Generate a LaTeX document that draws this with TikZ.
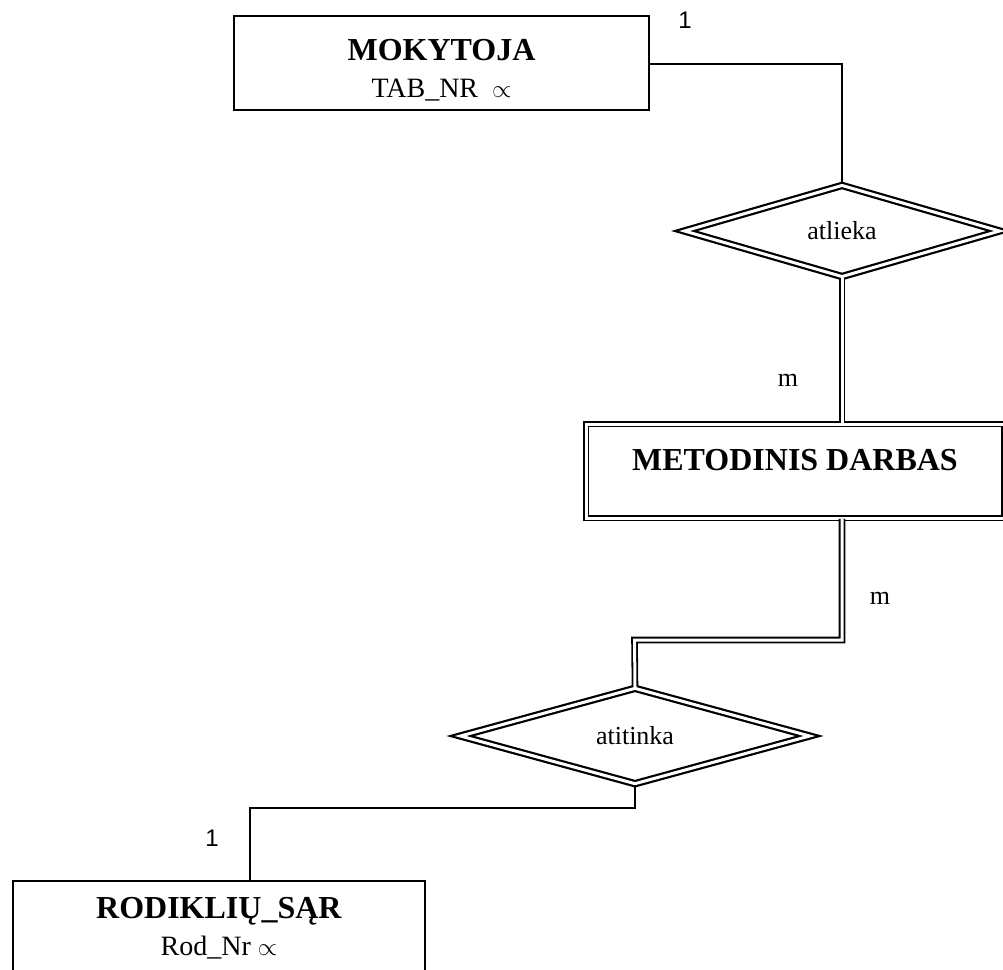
\documentclass[tikz,border=0pt]{standalone}
\usepackage{fontspec}
\setmainfont{Liberation Serif}
\newfontfamily\labelsans{Liberation Sans}
\usetikzlibrary{shapes.geometric}
\begin{document}
\begin{tikzpicture}[x=1pt,y=-1pt,
  every node/.style={inner sep=0pt},
  entity/.style={draw, line width=2pt, rectangle},
  weakentity/.style={draw, line width=1.8pt, double, double distance=3pt, rectangle},
  entitytext/.style={align=center, font=\fontsize{28}{37}\selectfont},
  relation/.style={draw, line width=2.2pt, double, double distance=3pt,
    diamond, font=\fontsize{26}{30}\selectfont},
  single/.style={line width=2pt},
  twin/.style={line width=1.8pt, double, double distance=3pt},
  card/.style={font=\fontsize{26}{30}\selectfont},
  cardsans/.style={font=\labelsans\fontsize{24}{28}\selectfont}]
  \useasboundingbox (0,0) rectangle (1003,969);

  % entities
  \node[entity, minimum width=415, minimum height=94] (mok) at (441.5,63) {};
  \node[entitytext] (mokt) at ([yshift=-7pt]mok.center)
    {\fontsize{32}{37}\selectfont\textbf{MOKYTOJA}\\TAB\_NR\ \ $\propto$};
  \node[weakentity, minimum width=418, minimum height=94] (met) at (795,471) {};
  \node[entitytext, font=\fontsize{32}{38}\selectfont] (mett)
    at ([yshift=11pt]met.center) {\textbf{METODINIS DARBAS}};
  \node[entity, minimum width=412, minimum height=96] (rod) at (219,929) {};
  \node[entitytext] (rodt) at ([yshift=1pt]rod.center)
    {\fontsize{32}{37}\selectfont\textbf{RODIKLIŲ\_SĄR}\\Rod\_Nr $\propto$};

  % relationships
  \node[relation, minimum width=316, minimum height=92] (atl) at (842,231) {atlieka};
  \node[relation, minimum width=350, minimum height=92] (ati) at (635,736) {atitinka};

  % bend points
  \coordinate (b1) at (842,64);
  \coordinate (b2) at (842,640);
  \coordinate (b3) at (634.5,640);
  \coordinate (b4) at (250,808);

  % connectors
  \draw[single] (mok.east |- b1) -- (b1) -- (atl.north);
  \draw[twin] (atl.south) -- (atl.south |- met.north);
  \draw[twin] (b2 |- met.south) -- (b2) -- (b3) -- (ati.north);
  \draw[single] (ati.south) |- (b4) -- (b4 |- rod.north);

  % cardinalities
  \node[cardsans] (c1) at (685,20) {1};
  \node[card] (c2) at (788,380) {m};
  \node[card] (c3) at (880,598) {m};
  \node[cardsans] (c4) at (212,838) {1};
\end{tikzpicture}
\end{document}
